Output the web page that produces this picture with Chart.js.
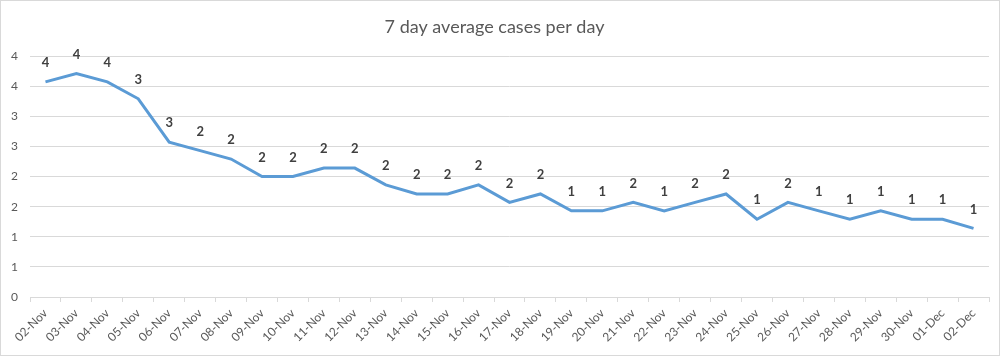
<!DOCTYPE html>
<html>
<head>
<meta charset="utf-8">
<script src="https://cdn.jsdelivr.net/npm/chart.js@4/dist/chart.umd.min.js"></script>
<style>
html,body{margin:0;padding:0;background:#fff;}
canvas{display:block;}
</style>
</head>
<body>
<canvas id="c" width="1000" height="356"></canvas>
<script>
const categories = ["02-Nov","03-Nov","04-Nov","05-Nov","06-Nov","07-Nov","08-Nov","09-Nov","10-Nov","11-Nov","12-Nov","13-Nov","14-Nov","15-Nov","16-Nov","17-Nov","18-Nov","19-Nov","20-Nov","21-Nov","22-Nov","23-Nov","24-Nov","25-Nov","26-Nov","27-Nov","28-Nov","29-Nov","30-Nov","01-Dec","02-Dec"];
const avgCases = [3.57,3.71,3.57,3.29,2.57,2.43,2.29,2.00,2.00,2.14,2.14,1.86,1.71,1.71,1.86,1.57,1.71,1.43,1.43,1.57,1.43,1.57,1.71,1.29,1.57,1.43,1.29,1.43,1.29,1.29,1.14];
const yMin = 0, yMax = 4, yStep = 0.5;
const titleText = "7 day average cases per day";

const frame = {
  id: 'frame',
  beforeDraw(chart) {
    const ctx = chart.ctx;
    ctx.save();
    ctx.fillStyle = '#fff';
    ctx.fillRect(0, 0, chart.width, chart.height);
    ctx.strokeStyle = '#d9d9d9';
    ctx.lineWidth = 1;
    ctx.strokeRect(0.5, 0.5, chart.width - 1, chart.height - 1);
    ctx.restore();
  }
};

const dataLabels = {
  id: 'dataLabels',
  afterDatasetsDraw(chart) {
    const ctx = chart.ctx;
    const meta = chart.getDatasetMeta(0);
    ctx.save();
    ctx.font = 'bold 13px Lato, "Open Sans", sans-serif';
    ctx.fillStyle = '#404040';
    ctx.textAlign = 'center';
    ctx.textBaseline = 'middle';
    meta.data.forEach((pt, i) => {
      const v = chart.data.datasets[0].data[i];
      ctx.fillText(String(Math.round(v)), pt.x, pt.y - 19);
    });
    ctx.restore();
  }
};

new Chart(document.getElementById('c'), {
  type: 'line',
  data: {
    labels: categories,
    datasets: [{
      data: avgCases,
      borderColor: '#5b9bd5',
      borderWidth: 3,
      pointRadius: 0,
      tension: 0,
      fill: false
    }]
  },
  options: {
    responsive: false,
    animation: false,
    devicePixelRatio: 1,
    layout: { padding: { left: 0, right: 11, top: 0, bottom: 4 } },
    plugins: {
      legend: { display: false },
      tooltip: { enabled: false },
      title: {
        display: true,
        text: titleText,
        color: '#595959',
        font: { family: 'Lato, "Open Sans", sans-serif', size: 18, weight: 'normal', lineHeight: 1.2 },
        padding: { top: 16, bottom: 18.4 }
      }
    },
    scales: {
      x: {
        offset: true,
        grid: { offset: true, drawOnChartArea: false, drawTicks: true, tickLength: 5, color: '#d9d9d9' },
        border: { display: true, color: '#d9d9d9', width: 1 },
        ticks: {
          autoSkip: false,
          maxRotation: 45,
          minRotation: 45,
          color: '#595959',
          padding: 4,
          font: { family: 'Lato, "Open Sans", sans-serif', size: 12 }
        },
        afterFit(scale) { scale.height = 55; }
      },
      y: {
        min: yMin,
        max: yMax,
        grid: { color: '#d9d9d9', drawTicks: false },
        border: { display: false },
        ticks: {
          stepSize: yStep,
          color: '#595959',
          padding: 12,
          font: { family: 'Lato, "Open Sans", sans-serif', size: 12 },
          callback: (v) => Math.round(v)
        },
        afterFit(scale) { scale.width = 30; }
      }
    }
  },
  plugins: [frame, dataLabels]
});
</script>
</body>
</html>
